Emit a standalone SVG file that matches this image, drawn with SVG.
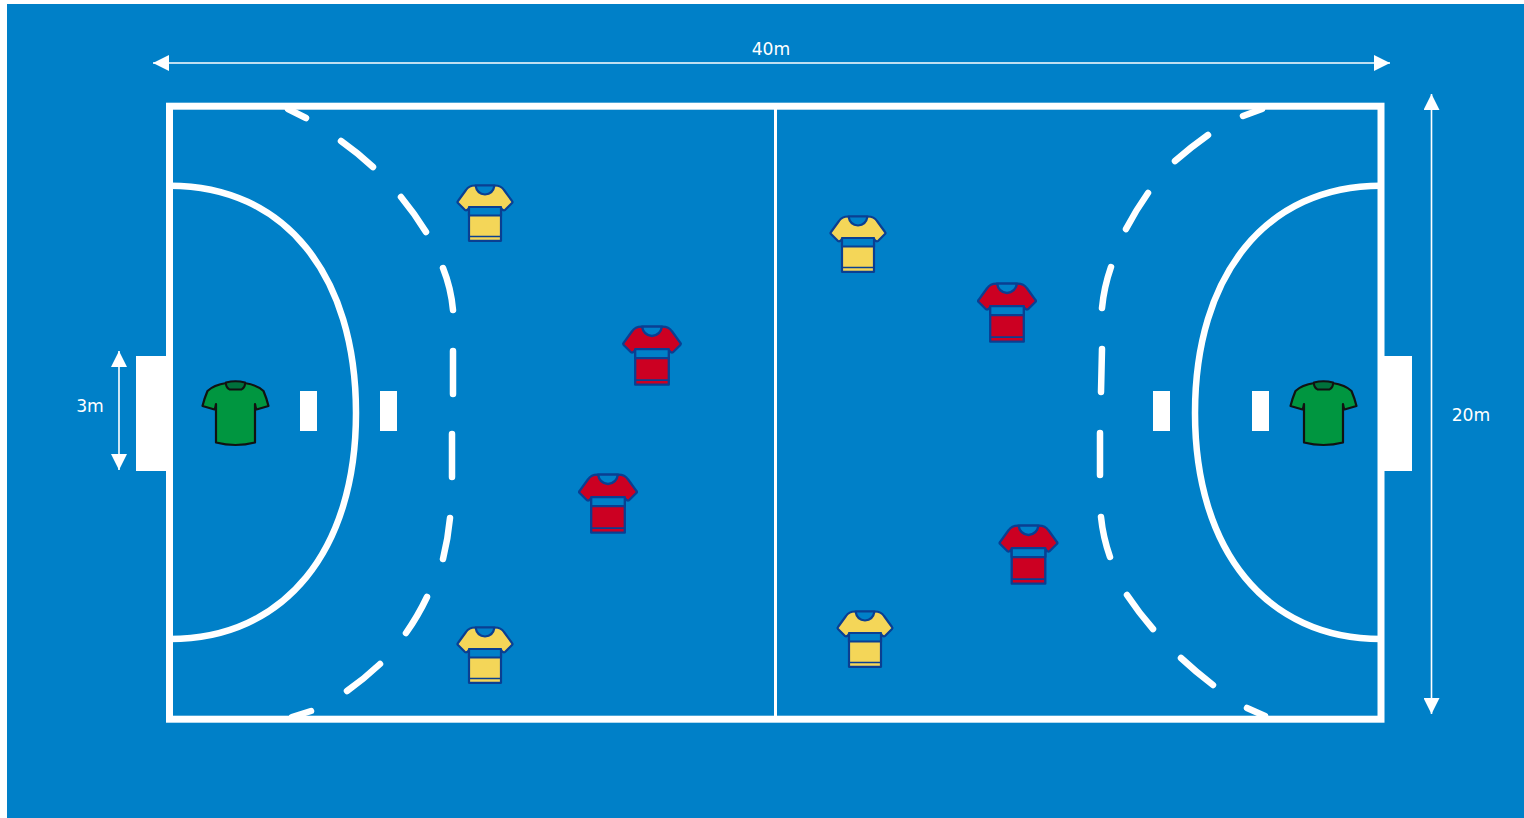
<svg xmlns="http://www.w3.org/2000/svg" width="1524" height="818" viewBox="0 0 1524 818">
<style>
.line{fill:none;stroke:#fff;stroke-width:7}
.arc{fill:none;stroke:#fff;stroke-width:6.500}
.dash{fill:none;stroke:#fff;stroke-width:6.500;stroke-linecap:round}
.solid{fill:#fff}
.dim{stroke:#fff;stroke-width:1.600;fill:none}
text{font-family:"DejaVu Sans",sans-serif;font-size:17.200px;fill:#fff;text-anchor:middle}
.o{stroke:#0a3f92;stroke-width:2.200;stroke-linejoin:round}
.band{fill:#0080c8}
</style>
<defs>
<g id="shirt">
<path class="o" d="M-10,1.500H10Q16,1.500 19,6L27,17Q28,18 27,19L20,26Q18,27 16,24V56.800H-16V24Q-18,27 -20,26L-27,19Q-28,18 -27,17L-19,6Q-16,1.500 -10,1.500Z"/>
<path class="o band" d="M-16,23H16V31.500H-16Z"/>
<path class="o band" d="M-9.500,1.500H9.500Q8,10 0,10.500Q-8,10 -9.500,1.500Z"/>
<path d="M-16,52.500H16" fill="none" stroke="#0a3f92" stroke-width="1.500"/>
</g>
<g id="keeper">
<path fill="#009640" stroke="#111" stroke-width="2.200" stroke-linejoin="round" d="M-9,3Q-22,5 -28,11Q-31,18 -33,26L-21,29.500Q-20,28 -19.500,24V62.500Q0,67.500 19.500,62.500V24Q20,28 21,29.500L33,26Q31,18 28,11Q22,5 9,3Z"/>
<path fill="#00713c" stroke="#111" stroke-width="2" d="M-9.500,2.500Q0,0 9.500,2.500Q10,7 6,9.500H-6Q-10,7 -9.500,2.500Z"/>
</g>
<marker id="a" viewBox="0 0 16 16" refX="16" refY="8" markerWidth="16" markerHeight="16" markerUnits="userSpaceOnUse" orient="auto-start-reverse"><path d="M0,0L16,8L0,16Z" fill="#fff"/></marker>
</defs>
<rect x="7" y="4" width="1517" height="814" fill="#0080c8"/>
<g id="dashed-free-throw-lines">
<path class="dash" d="M288,109L306,118M341,141Q358,153 373,167M401,197Q415,214 426,232M443,268Q451,288 453,310M453,351V394M452,434V477M450,518Q448,539 443,559M427,597Q418,616 406,633M380,664Q364,679 347,691M311,711L292,717"/>
<path class="dash" d="M1262,109L1243,116M1208,135Q1191,147 1175,161M1148,193Q1136,210 1126,229M1111,267Q1104,287 1102,308M1102,349L1101,392M1100,433V475M1101,517Q1103,537 1110,557M1127,595Q1139,613 1153,629M1181,658Q1196,672 1213,685M1247,708L1265,716"/>
</g>
<g id="court">
<rect class="line" x="169.500" y="106.200" width="1211.500" height="613"/>
<path d="M775.500,106V719" fill="none" stroke="#fff" stroke-width="3"/>
<path class="arc" d="M170,185.700C285,185.700 356,275 356,413C356,550 285,639 170,639"/>
<path class="arc" d="M1381,185.700C1266,185.700 1195,275 1195,413C1195,550 1266,639 1381,639"/>
<rect class="solid" x="136" y="356" width="32" height="115"/>
<rect class="solid" x="1384" y="356" width="28" height="115"/>
<rect class="solid" x="300" y="391" width="17" height="40"/>
<rect class="solid" x="380" y="391" width="17" height="40"/>
<rect class="solid" x="1153" y="391" width="17" height="40"/>
<rect class="solid" x="1252" y="391" width="17" height="40"/>
</g>
<g id="connectors">
<path class="dim" d="M153,63H1390" marker-start="url(#a)" marker-end="url(#a)"/>
<path class="dim" d="M1431.500,94V714" marker-start="url(#a)" marker-end="url(#a)"/>
<path class="dim" d="M119,351V470" marker-start="url(#a)" marker-end="url(#a)"/>
</g>
<g id="labels">
<text x="771" y="55">40m</text>
<text x="1471" y="421">20m</text>
<text x="90" y="412">3m</text>
</g>
<g id="yellow-1" fill="#f4d658"><use href="#shirt" transform="translate(485,184)"/></g>
<g id="yellow-2" fill="#f4d658"><use href="#shirt" transform="translate(485,626)"/></g>
<g id="yellow-3" fill="#f4d658"><use href="#shirt" transform="translate(858,215)"/></g>
<g id="yellow-4" fill="#f4d658"><use href="#shirt" transform="translate(865,610)"/></g>
<g id="red-1" fill="#cc0022"><use href="#shirt" transform="translate(652,325) scale(1.05)"/></g>
<g id="red-2" fill="#cc0022"><use href="#shirt" transform="translate(608,473) scale(1.05)"/></g>
<g id="red-3" fill="#cc0022"><use href="#shirt" transform="translate(1007,282) scale(1.05)"/></g>
<g id="red-4" fill="#cc0022"><use href="#shirt" transform="translate(1028.500,524) scale(1.05)"/></g>
<g id="keeper-left"><use href="#keeper" transform="translate(235.500,380)"/></g>
<g id="keeper-right"><use href="#keeper" transform="translate(1323.500,380)"/></g>
</svg>
